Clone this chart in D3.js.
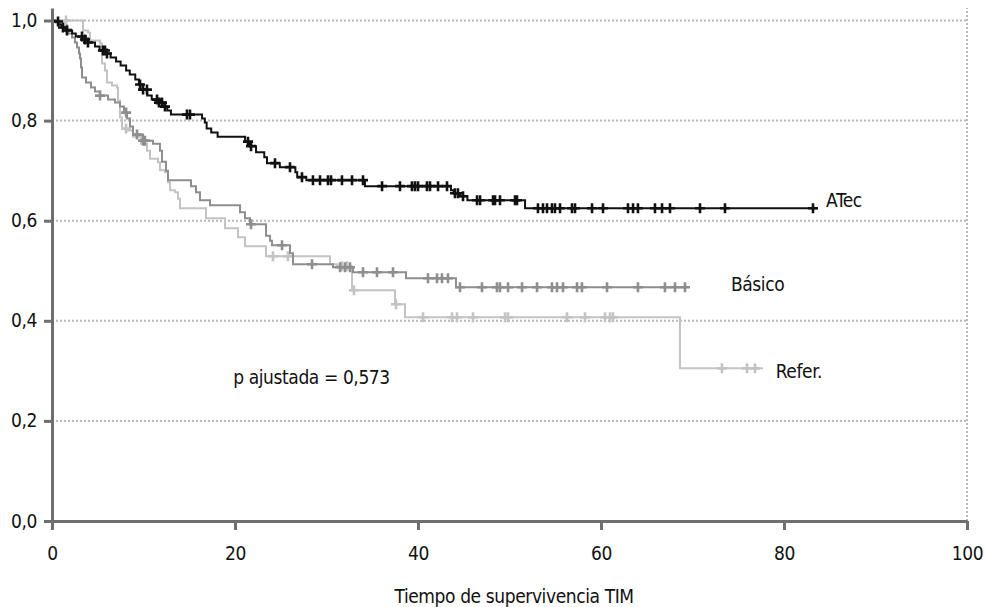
<!DOCTYPE html>
<html>
<head>
<meta charset="utf-8">
<script src="https://cdn.jsdelivr.net/npm/d3@7"></script>
<style>
  body { margin: 0; background: #fff; }
  svg text { font-family: "DejaVu Sans Condensed", "DejaVu Sans", sans-serif; font-stretch: condensed; letter-spacing: -0.4px; fill: #111; }
</style>
</head>
<body>
<div class="km-chart"></div>
<script>
// Kaplan-Meier curves
// ATec
const atecTimes = [0, 0.3, 0.7, 1.1, 1.5, 2.2, 2.6, 3.3, 3.9, 4.7, 5.2, 5.9, 6.4, 7.0, 7.5, 8.1, 8.5, 9.1, 9.5, 9.9,
  10.4, 10.9, 11.6, 12.1, 12.6, 13.0, 16.4, 16.7, 16.9, 17.4, 18.1, 21.1, 21.6, 22.3, 23.2, 23.5, 24.9, 26.6, 26.8,
  27.8, 34.2, 43.6, 43.9, 44.6, 45.4, 51.7];
const atecSurv = [1.0, 0.998, 0.992, 0.986, 0.980, 0.974, 0.968, 0.962, 0.956, 0.948, 0.940, 0.934, 0.926, 0.918,
  0.910, 0.900, 0.892, 0.882, 0.872, 0.862, 0.850, 0.842, 0.836, 0.828, 0.820, 0.812, 0.804, 0.796, 0.784, 0.776,
  0.768, 0.758, 0.749, 0.737, 0.727, 0.715, 0.707, 0.697, 0.687, 0.681, 0.669, 0.661, 0.655, 0.649, 0.641, 0.625];
const atecEnd = 83.7;
const atecCensored = [0.66, 1.2, 1.64, 3.28, 3.61, 3.93, 5.57, 5.79, 6.01, 9.62, 9.95, 10.38, 11.48, 11.69, 12.02,
  12.35, 14.75, 15.08, 21.42, 21.75, 24.37, 26.01, 27.32, 28.52, 29.29, 30.16, 30.49, 31.69, 32.79, 33.99, 36.07,
  38.03, 39.34, 39.67, 40.0, 40.98, 41.31, 42.19, 43.17, 44.04, 44.37, 44.92, 46.45, 46.78, 48.2, 48.42, 48.96,
  50.6, 50.82, 53.11, 53.66, 54.1, 54.64, 54.97, 55.52, 56.83, 57.16, 59.02, 60.22, 62.95, 63.5, 64.04, 65.9,
  66.67, 67.54, 70.82, 73.55, 83.17];

// Básico
const basicoTimes = [0, 0.44, 0.87, 1.31, 1.75, 2.19, 2.51, 2.73, 2.95, 3.06, 3.17, 3.28, 3.72, 4.26, 4.70, 5.25,
  6.12, 6.89, 7.43, 7.87, 8.20, 8.52, 8.85, 9.95, 11.04, 11.80, 12.02, 12.46, 12.68, 15.19, 15.74, 16.17, 17.27,
  20.55, 21.09, 21.64, 23.39, 23.83, 24.04, 26.01, 26.34, 30.71, 32.90, 38.69, 44.15];
const basicoSurv = [1.0, 0.996, 0.988, 0.982, 0.974, 0.966, 0.956, 0.946, 0.934, 0.924, 0.906, 0.886, 0.876, 0.866,
  0.858, 0.850, 0.842, 0.836, 0.828, 0.816, 0.804, 0.788, 0.772, 0.760, 0.754, 0.740, 0.718, 0.700, 0.681, 0.669,
  0.657, 0.641, 0.631, 0.617, 0.605, 0.593, 0.570, 0.560, 0.551, 0.535, 0.513, 0.507, 0.497, 0.485, 0.467];
const basicoEnd = 69.4;
const basicoCensored = [1.64, 5.25, 8.1, 9.29, 9.95, 10.16, 21.75, 25.14, 28.42, 31.48, 32.02, 32.57, 33.99, 35.52,
  37.27, 41.09, 42.08, 42.62, 43.28, 44.59, 46.99, 48.63, 48.96, 49.84, 51.37, 53.01, 54.64, 55.19, 55.85, 57.38,
  57.92, 60.66, 64.04, 66.99, 68.09, 69.18];

// Refer.
const referTimes = [0, 3.39, 3.93, 4.15, 5.25, 5.46, 5.79, 6.01, 6.56, 7.10, 7.21, 7.43, 7.65, 8.31, 8.85, 9.73,
  10.38, 10.71, 11.58, 11.80, 12.35, 12.68, 12.90, 13.44, 13.77, 13.99, 16.83, 18.91, 20.33, 21.09, 23.39, 30.38,
  31.15, 32.79, 37.49, 38.58, 68.63];
const referSurv = [1.0, 0.980, 0.976, 0.960, 0.954, 0.914, 0.900, 0.876, 0.870, 0.866, 0.840, 0.806, 0.784, 0.780,
  0.768, 0.754, 0.740, 0.724, 0.717, 0.701, 0.697, 0.677, 0.661, 0.657, 0.644, 0.625, 0.605, 0.585, 0.567, 0.549,
  0.529, 0.513, 0.509, 0.461, 0.433, 0.407, 0.305];
const referEnd = 77.7;
const referCensored = [1.53, 8.09, 24.15, 25.79, 31.69, 32.24, 33.0, 37.6, 40.55, 43.72, 44.26, 46.01, 49.51,
  49.84, 56.28, 58.25, 60.44, 60.98, 61.31, 73.22, 75.96, 76.83];

const xTicks = [0, 20, 40, 60, 80, 100];
const yTicks = [0, 0.2, 0.4, 0.6, 0.8, 1.0];

const series = [
  { name: 'Refer.', times: referTimes, surv: referSurv, end: referEnd, cens: referCensored, color: '#c3c3c3', label: [79.1, 0.285] },
  { name: 'Básico', times: basicoTimes, surv: basicoSurv, end: basicoEnd, cens: basicoCensored, color: '#8e8e8e', label: [74.2, 0.46] },
  { name: 'ATec', times: atecTimes, surv: atecSurv, end: atecEnd, cens: atecCensored, color: '#111111', label: [84.6, 0.628] }
];

const width = 986;
const height = 607;
const margin = { top: 8, right: 19, bottom: 86, left: 52 };
const fontSize = '19px';

const svg = d3.select('.km-chart').append('svg')
  .attr('width', width).attr('height', height);

const x = d3.scaleLinear([0, 100], [margin.left, width - margin.right]);
const y = d3.scaleLinear([0, 1.025], [height - margin.bottom, margin.top]);

// grid (dotted)
const grid = svg.append('g').attr('class', 'grid')
  .attr('stroke', '#b8b8b8').attr('stroke-width', 2).attr('stroke-dasharray', '2,2');
grid.selectAll('line.h').data(yTicks.filter(d => d > 0)).join('line').attr('class', 'h')
  .attr('x1', x(0)).attr('x2', x(100)).attr('y1', d => y(d)).attr('y2', d => y(d));
grid.append('line')
  .attr('x1', x(100)).attr('x2', x(100)).attr('y1', y(0)).attr('y2', y(1.025));

// survival at time t (step function)
function survAt(s, t) {
  const i = d3.bisectRight(s.times, t) - 1;
  return s.surv[Math.max(i, 0)];
}

const line = d3.line().x(d => x(d[0])).y(d => y(d[1])).curve(d3.curveStepAfter);

const curves = svg.append('g').attr('class', 'curves');
series.forEach(s => {
  const pts = s.times.map((t, i) => [t, s.surv[i]]);
  pts.push([s.end, s.surv[s.surv.length - 1]]);
  const g = curves.append('g').attr('stroke', s.color).attr('fill', 'none');
  g.append('path').attr('d', line(pts)).attr('stroke-width', 2);
  // censor marks
  g.selectAll('path.cens').data(s.cens).join('path').attr('class', 'cens')
    .attr('stroke-width', 2.6)
    .attr('d', d => {
      const cx = x(d), cy = y(survAt(s, d));
      return `M${cx - 5},${cy}H${cx + 5}M${cx},${cy - 5}V${cy + 5}`;
    });
  svg.append('text').attr('x', x(s.label[0])).attr('y', y(s.label[1]))
    .style('font-size', fontSize).text(s.name);
});

svg.append('text').attr('x', x(19.8)).attr('y', y(0.273))
  .style('font-size', fontSize).text('p ajustada = 0,573');

// axes
const axisColor = '#6f6f6f';
const yAxis = d3.axisLeft(y).tickValues(yTicks)
  .tickFormat(d => d3.format('.1f')(d).replace('.', ','))
  .tickSizeInner(8).tickSizeOuter(0).tickPadding(7);
const xAxis = d3.axisBottom(x).tickValues(xTicks)
  .tickSizeInner(9).tickSizeOuter(0).tickPadding(17);

const yAxisDraw = svg.append('g').attr('transform', `translate(${margin.left},0)`).call(yAxis);
const xAxisDraw = svg.append('g').attr('transform', `translate(0,${height - margin.bottom})`).call(xAxis);

[xAxisDraw, yAxisDraw].forEach(a => {
  a.attr('font-family', null).attr('font-size', null);
  a.select('.domain').attr('stroke', axisColor).attr('stroke-width', 3);
  a.selectAll('.tick line').attr('stroke', axisColor).attr('stroke-width', 3);
  a.selectAll('.tick text').style('font-size', fontSize).attr('fill', '#111');
});

svg.append('text').attr('x', x(50.5)).attr('y', height - 4)
  .attr('text-anchor', 'middle').style('font-size', fontSize)
  .text('Tiempo de supervivencia TIM');
</script>
</body>
</html>
